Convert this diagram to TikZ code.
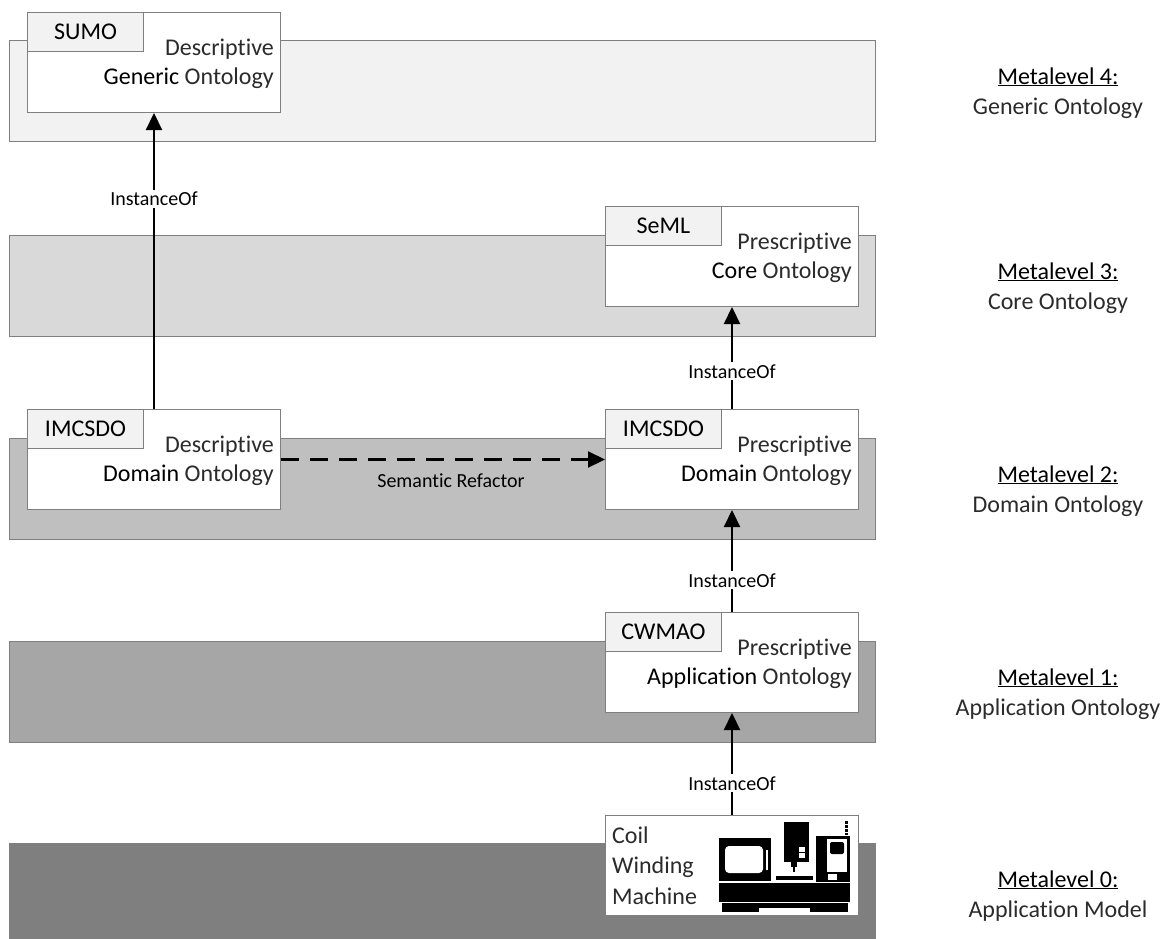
\documentclass[tikz,border=0pt]{standalone}
\usepackage{fontspec}
\setmainfont[Ligatures=NoCommon]{Carlito}
\usetikzlibrary{positioning,arrows.meta}
\definecolor{lvlfour}{HTML}{F2F2F2}
\definecolor{lvlthree}{HTML}{D9D9D9}
\definecolor{lvltwo}{HTML}{BFBFBF}
\definecolor{lvlone}{HTML}{A6A6A6}
\definecolor{lvlzero}{HTML}{7F7F7F}
\definecolor{edgegray}{HTML}{7F7F7F}
\definecolor{tagfill}{HTML}{F2F2F2}
\definecolor{lightink}{HTML}{2B2B2B}
\newcommand{\bigtxt}{\fontsize{24bp}{30bp}\selectfont}
\newcommand{\lbltxt}{\fontsize{20bp}{24bp}\selectfont}
\newcommand{\lite}[1]{{\color{lightink}#1}}
\tikzset{
  band/.style={draw=edgegray,line width=1bp},
  onto/.style={draw=edgegray,fill=white,line width=1bp,minimum width=253bp,
    minimum height=100bp,inner sep=0pt,anchor=north west},
  tagbox/.style={draw=edgegray,fill=tagfill,line width=1bp,minimum width=116bp,
    minimum height=39bp,inner sep=0pt,anchor=north west,font=\bigtxt},
  txt/.style={inner sep=0pt,font=\bigtxt},
  inst/.style={-{Triangle[width=16bp,length=17bp]},line width=2.2bp},
  refac/.style={-{Triangle[width=16bp,length=17bp]},line width=2.2bp,
    dash pattern=on 18bp off 11bp},
  lbl/.style={fill=white,inner sep=2bp,font=\lbltxt},
  ink/.style={fill=black,draw=none},
  hole/.style={fill=white,draw=none},
}

\begin{document}
\begin{tikzpicture}[x=1bp,y=-1bp]
  \useasboundingbox (0,0) rectangle (1174,939);
  % metalevel bands
  \foreach \top/\col in {40/lvlfour,235/lvlthree,438/lvltwo,641/lvlone,843/lvlzero}
    \draw[band,fill=\col] (9,\top) rectangle (875,\top+101);
  % metalevel captions
  \foreach \i/\top/\name in {4/40/Generic Ontology,3/235/Core Ontology,
      2/438/Domain Ontology,1/641/Application Ontology,0/843/Application Model}{
    \node[txt,anchor=base] (ml\i) at (1058,\top+44) {\underline{Metalevel \i:}};
    \node[txt,anchor=base] (ml\i-name) at (1058,\top+74) {\lite{\name}};
  }
  % ontology boxes with their tags
  \foreach \nm/\x/\y/\tg/\kind/\lvl in {sumo/27/12/SUMO/Descriptive/Generic,
      seml/605/206/SeML/Prescriptive/Core,
      imcsdoD/27/409/IMCSDO/Descriptive/Domain,
      imcsdoP/605/409/IMCSDO/Prescriptive/Domain,
      cwmao/605/612/CWMAO/Prescriptive/Application}{
    \node[onto] (\nm) at (\x,\y) {};
    \node[tagbox] (\nm-tag) at (\nm.north west) {\tg};
    \node[txt,anchor=base east] (\nm-kind) at ([xshift=-7bp,yshift=-43bp]\nm.north east) {\lite{\kind}};
    \node[txt,anchor=base east] (\nm-lvl) at ([xshift=-7bp,yshift=-72bp]\nm.north east) {\lvl\ \lite{Ontology}};
  }
  % application model box
  \node[onto] (machine) at (605,815) {};
  \foreach \w/\dy in {Coil/28,Winding/58.5,Machine/89}
    \node[txt,anchor=base west] (word-\w) at ([xshift=7bp,yshift=-\dy bp]machine.north west) {\lite{\w}};
  % machine icon
  \fill[ink] (719,838) rectangle (771,881);
  \fill[hole,rounded corners=4bp] (725,846) rectangle (763,873);
  \fill[hole] (766,850) rectangle (768,870);
  \fill[ink] (784,822) rectangle (809,862);
  \fill[hole] (799,847) rectangle (805,852);
  \fill[hole] (799,853) rectangle (805,858);
  \fill[ink] (791,862) rectangle (797,867);
  \fill[ink] (793,867) rectangle (795,872);
  \fill[ink] (776,876) rectangle (813,880);
  \fill[ink] (816,836) rectangle (850,882);
  \fill[hole] (827,839) rectangle (847,872);
  \fill[ink,rounded corners=2bp] (830,842) rectangle (844,854);
  \fill[hole] (828,874) rectangle (837,880);
  \draw[line width=2.5bp,dash pattern=on 2.5bp off 1.5bp] (846.5,821) -- (846.5,835);
  \fill[ink] (719,883) rectangle (850,902);
  \fill[ink] (722,903) rectangle (848,912);
  \fill[hole] (759,908) rectangle (810,912.5);
  % instance-of and refactoring links
  \draw[inst] (imcsdoD.north) -- node[lbl,pos=0.71] (io-sumo) {InstanceOf} (sumo.south);
  \draw[inst] (imcsdoP.north) -- node[lbl,pos=0.37] (io-seml) {InstanceOf} (seml.south);
  \draw[inst] (cwmao.north) -- node[lbl,pos=0.31] (io-dom) {InstanceOf} (imcsdoP.south);
  \draw[inst] (machine.north) -- node[lbl,pos=0.31] (io-app) {InstanceOf} (cwmao.south);
  \draw[refac] (imcsdoD.east) -- node[lbl,fill=none,below=11bp,xshift=8bp] (refactor) {Semantic Refactor} (imcsdoP.west);
\end{tikzpicture}
\end{document}
